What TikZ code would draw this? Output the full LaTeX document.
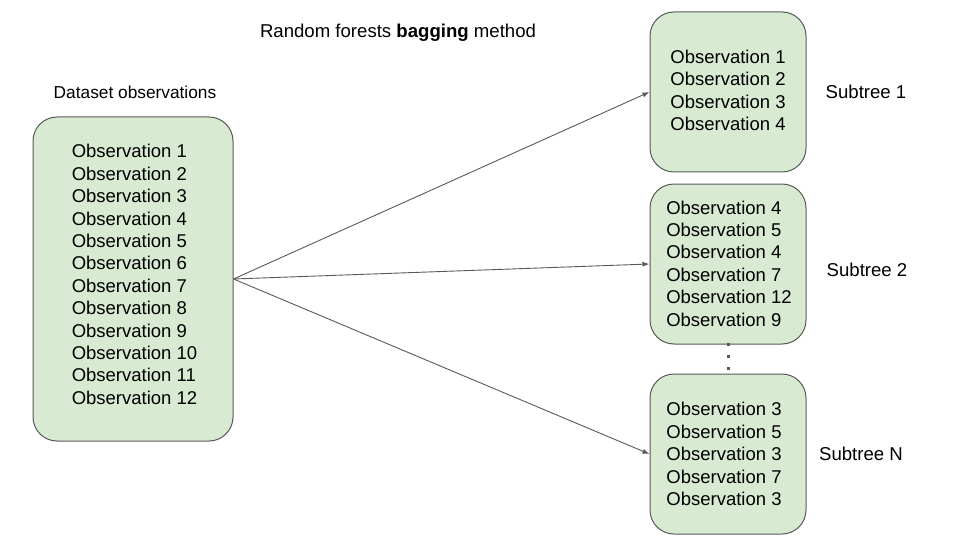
\documentclass[tikz,border=0pt]{standalone}
\usepackage{fontspec}
\setmainfont{Liberation Sans}
\usetikzlibrary{arrows.meta}
\definecolor{boxfill}{HTML}{D9EAD3}
\definecolor{boxline}{HTML}{595959}
\definecolor{arrowcol}{HTML}{595959}
\tikzset{
  obsbox/.style={draw=boxline, line width=1pt, fill=boxfill, rounded corners=24pt, inner sep=0pt},
  obstext/.style={align=left, font=\fontsize{18.5}{22.4}\selectfont, inner sep=0pt},
  lbl/.style={font=\fontsize{18.6}{22}\selectfont, inner sep=0pt},
  conn/.style={draw=arrowcol, line width=0.9pt, -{Latex[length=7pt,width=5pt]}},
}
\begin{document}
\begin{tikzpicture}[x=1pt,y=-1pt]
\useasboundingbox (0,0) rectangle (960,540);
% boxes
\node[obsbox, minimum width=200pt, minimum height=324pt] (data) at (133,279) {};
\node[obsbox, minimum width=156pt, minimum height=160pt] (s1) at (728,92) {};
\node[obsbox, minimum width=156pt, minimum height=160pt] (s2) at (728,264) {};
\node[obsbox, minimum width=156pt, minimum height=160pt] (sn) at (728,454) {};
% texts
\node[obstext] (datatext) at (134.5,274.5) {Observation 1\\Observation 2\\Observation 3\\Observation 4\\Observation 5\\Observation 6\\Observation 7\\Observation 8\\Observation 9\\Observation 10\\Observation 11\\Observation 12};
\node[obstext] (s1text) at (728,90.5) {Observation 1\\Observation 2\\Observation 3\\Observation 4};
\node[obstext] (s2text) at (729,263.5) {Observation 4\\Observation 5\\Observation 4\\Observation 7\\Observation 12\\Observation 9};
\node[obstext] (sntext) at (724,454) {Observation 3\\Observation 5\\Observation 3\\Observation 7\\Observation 3};
% labels
\node[lbl] (title) at (398,33) {Random forests \textbf{bagging} method};
\node[lbl, font=\fontsize{17.3}{20}\selectfont] (dlabel) at (135,92) {Dataset observations};
\node[lbl] (l1) at (866,92) {Subtree 1};
\node[lbl] (l2) at (867,270) {Subtree 2};
\node[lbl] (ln) at (861,454) {Subtree N};
% connectors
\draw[conn] (data.east) -- (s1.west);
\draw[conn] (data.east) -- (s2.west);
\draw[conn] (data.east) -- (sn.west);
\draw[draw=boxline, line width=3pt, dash pattern=on 3pt off 9pt] ([yshift=1.5pt]s2.south) -- (sn.north);
\end{tikzpicture}
\end{document}
